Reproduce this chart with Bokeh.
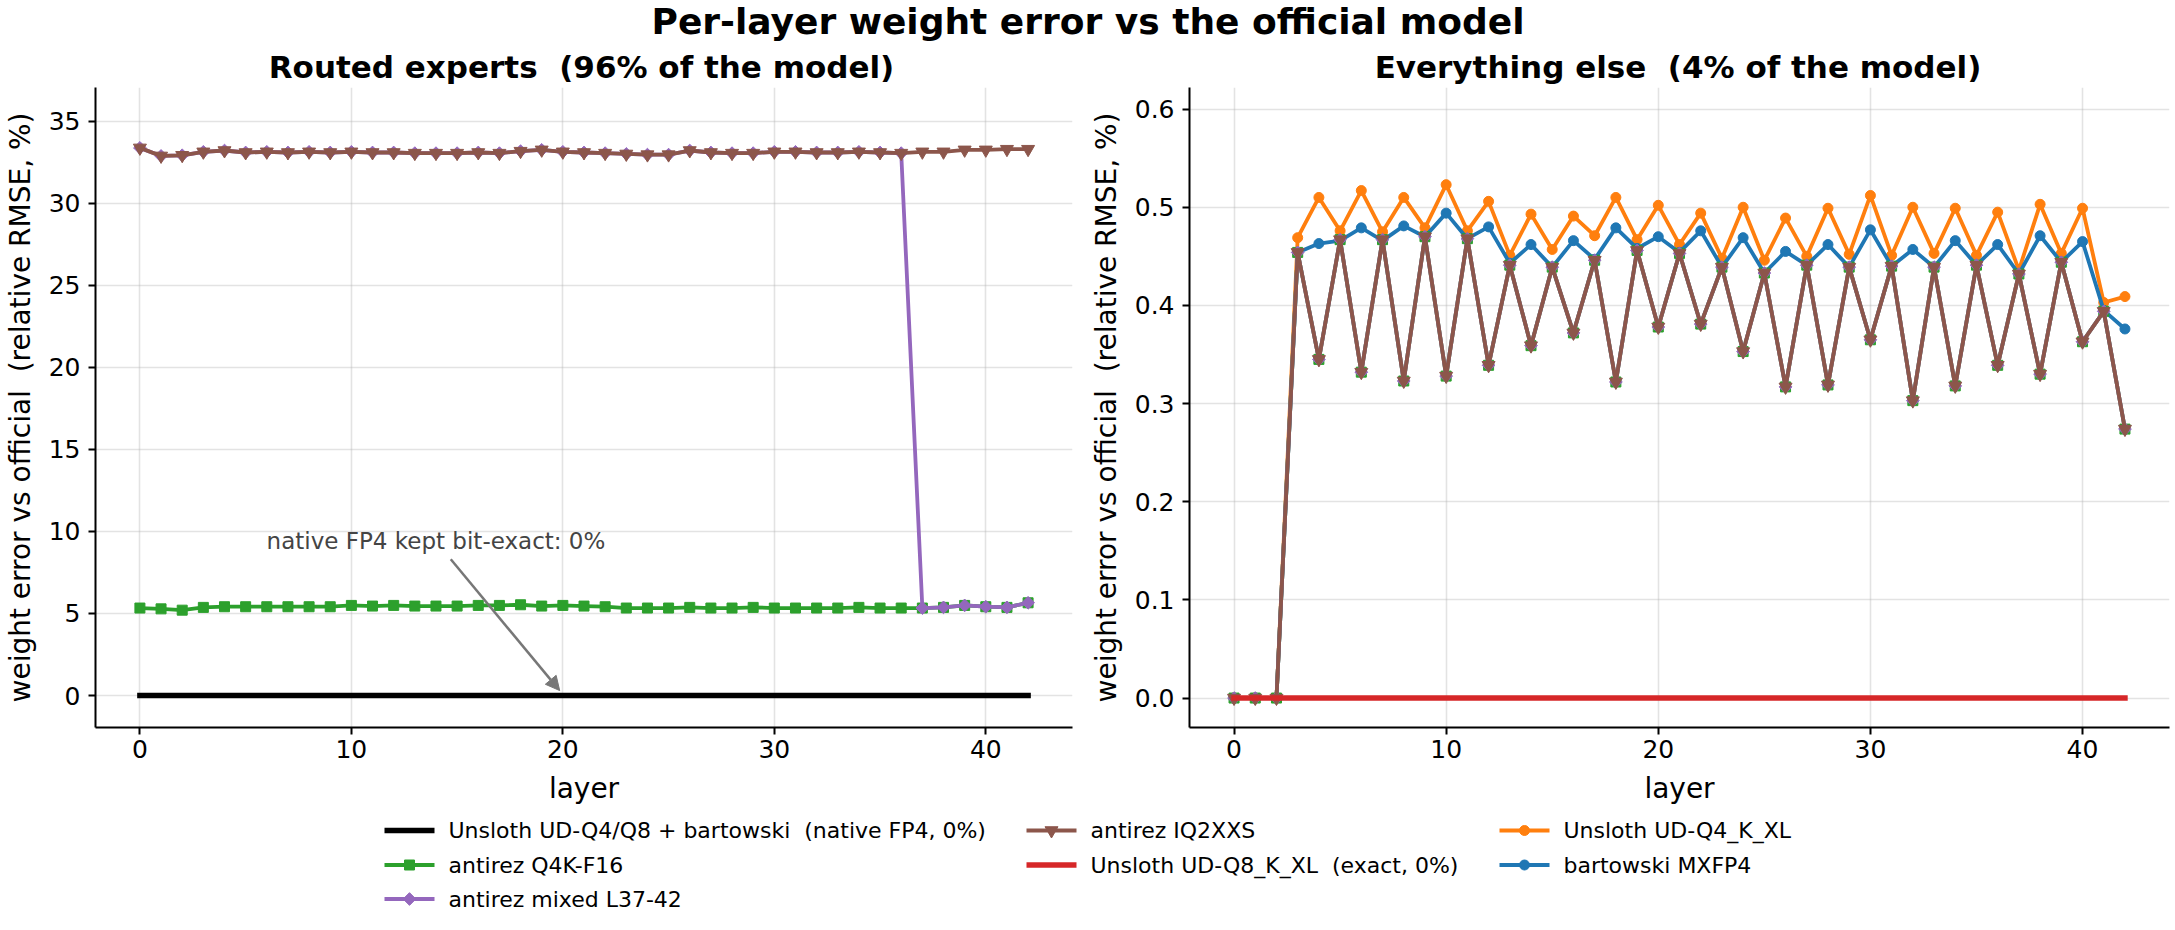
import math
from bokeh.plotting import figure
from bokeh.layouts import column, row
from bokeh.models import Range1d, FixedTicker, PrintfTickFormatter, Label, Arrow, NormalHead
from bokeh.core.properties import value
from bokeh.embed import file_html
from bokeh.resources import INLINE

FONT = "DejaVu Sans"
SP2 = " \u00a0"  # a visible double space (SVG collapses plain double spaces)

# ---------------- data ----------------
layers = [0, 1, 2, 3, 4, 5, 6, 7, 8, 9, 10, 11, 12, 13, 14, 15, 16, 17, 18, 19, 20,
          21, 22, 23, 24, 25, 26, 27, 28, 29, 30, 31, 32, 33, 34, 35, 36, 37, 38, 39, 40, 41, 42]

# Routed experts (relative RMSE, %)
exp_native_fp4 = [0.0, 0.0, 0.0, 0.0, 0.0, 0.0, 0.0, 0.0, 0.0, 0.0, 0.0, 0.0, 0.0, 0.0, 0.0,
                  0.0, 0.0, 0.0, 0.0, 0.0, 0.0, 0.0, 0.0, 0.0, 0.0, 0.0, 0.0, 0.0, 0.0, 0.0,
                  0.0, 0.0, 0.0, 0.0, 0.0, 0.0, 0.0, 0.0, 0.0, 0.0, 0.0, 0.0, 0.0]
exp_q4k_f16 = [5.33, 5.28, 5.20, 5.37, 5.41, 5.41, 5.41, 5.41, 5.41, 5.41, 5.49, 5.45, 5.49, 5.45, 5.45,
               5.45, 5.49, 5.49, 5.53, 5.45, 5.49, 5.45, 5.41, 5.33, 5.33, 5.33, 5.37, 5.33, 5.33, 5.37,
               5.33, 5.33, 5.33, 5.33, 5.37, 5.33, 5.33, 5.33, 5.37, 5.49, 5.41, 5.37, 5.65]
exp_mixed = [33.37, 32.88, 32.92, 33.13, 33.21, 33.09, 33.13, 33.09, 33.13, 33.09, 33.13, 33.09, 33.09,
             33.05, 33.05, 33.05, 33.09, 33.05, 33.17, 33.25, 33.13, 33.09, 33.05, 33.00, 32.96, 32.96,
             33.21, 33.09, 33.05, 33.05, 33.13, 33.13, 33.09, 33.09, 33.13, 33.09, 33.05,
             5.33, 5.37, 5.49, 5.41, 5.37, 5.65]
exp_iq2xxs = [33.37, 32.88, 32.92, 33.13, 33.21, 33.09, 33.13, 33.09, 33.13, 33.09, 33.13, 33.09, 33.09,
              33.05, 33.05, 33.05, 33.09, 33.05, 33.17, 33.25, 33.13, 33.09, 33.05, 33.00, 32.96, 32.96,
              33.21, 33.09, 33.05, 33.05, 33.13, 33.13, 33.09, 33.09, 33.13, 33.09, 33.05,
              33.13, 33.13, 33.25, 33.25, 33.29, 33.29]

# Everything else (relative RMSE, %)
oth_antirez = [0.0, 0.0, 0.0, 0.454, 0.345, 0.467, 0.332, 0.467, 0.323, 0.470, 0.328, 0.468, 0.339,
               0.441, 0.359, 0.439, 0.372, 0.446, 0.322, 0.456, 0.378, 0.453, 0.381, 0.439, 0.353,
               0.433, 0.317, 0.441, 0.319, 0.439, 0.365, 0.440, 0.303, 0.439, 0.318, 0.441, 0.339,
               0.432, 0.330, 0.444, 0.363, 0.394, 0.274]
oth_q8_exact = [0.0, 0.0, 0.0, 0.0, 0.0, 0.0, 0.0, 0.0, 0.0, 0.0, 0.0, 0.0, 0.0, 0.0, 0.0,
                0.0, 0.0, 0.0, 0.0, 0.0, 0.0, 0.0, 0.0, 0.0, 0.0, 0.0, 0.0, 0.0, 0.0, 0.0,
                0.0, 0.0, 0.0, 0.0, 0.0, 0.0, 0.0, 0.0, 0.0, 0.0, 0.0, 0.0, 0.0]
oth_ud_q4 = [0.0, 0.0, 0.0, 0.469, 0.510, 0.476, 0.517, 0.475, 0.510, 0.479, 0.523, 0.476, 0.506,
             0.451, 0.493, 0.457, 0.491, 0.471, 0.510, 0.467, 0.502, 0.462, 0.494, 0.448, 0.500,
             0.446, 0.489, 0.450, 0.499, 0.452, 0.512, 0.451, 0.500, 0.453, 0.499, 0.451, 0.495,
             0.436, 0.503, 0.453, 0.499, 0.403, 0.409]
oth_mxfp4 = [0.0, 0.0, 0.0, 0.454, 0.463, 0.466, 0.479, 0.466, 0.481, 0.470, 0.494, 0.468, 0.480,
             0.443, 0.462, 0.439, 0.466, 0.447, 0.479, 0.458, 0.470, 0.454, 0.476, 0.439, 0.469,
             0.433, 0.455, 0.441, 0.462, 0.439, 0.477, 0.440, 0.457, 0.439, 0.466, 0.441, 0.462,
             0.432, 0.471, 0.444, 0.465, 0.395, 0.376]

x_ticks = [0, 10, 20, 30, 40]
left_y_ticks = [0, 5, 10, 15, 20, 25, 30, 35]
right_y_ticks = [0.0, 0.1, 0.2, 0.3, 0.4, 0.5, 0.6]

suptitle = "Per-layer weight error vs the official model"
title_left = "Routed experts" + SP2 + "(96% of the model)"
title_right = "Everything else" + SP2 + "(4% of the model)"
x_label = "layer"
y_label = "weight error vs official" + SP2 + "(relative RMSE, %)"
note_text = "native FP4 kept bit-exact: 0%"

legend_labels = ["Unsloth UD-Q4/Q8 + bartowski" + SP2 + "(native FP4, 0%)", "antirez Q4K-F16",
                 "antirez mixed L37-42", "antirez IQ2XXS", "Unsloth UD-Q8_K_XL" + SP2 + "(exact, 0%)",
                 "Unsloth UD-Q4_K_XL", "bartowski MXFP4"]

C_BLACK = "#000000"
C_GREEN = "#2ca02c"
C_PURPLE = "#9467bd"
C_BROWN = "#8c564b"
C_RED = "#d62728"
C_ORANGE = "#ff7f0e"
C_BLUE = "#1f77b4"

legend_colors = [C_BLACK, C_GREEN, C_PURPLE, C_BROWN, C_RED, C_ORANGE, C_BLUE]
legend_markers = [None, "square", "diamond", "inverted_triangle", None, "circle", "circle"]

# marker name -> (bokeh marker, size px, rotation)
MARKER_STYLE = {"square": ("square", 10, 0.0),
                "diamond": ("square", 9, math.pi / 4),
                "inverted_triangle": ("inverted_triangle", 13, 0.0),
                "circle": ("circle", 10, 0.0)}
DATA_LW = 3.8
THICK_LW = 5.5

W = 2170
H_HEAD = 84
H_ROW = 734
H_LEG = 108


def style_axes(p, yticks, yfmt=None):
    p.outline_line_color = None
    p.background_fill_color = "white"
    p.border_fill_color = "white"
    p.xaxis.ticker = FixedTicker(ticks=x_ticks)
    p.yaxis.ticker = FixedTicker(ticks=yticks)
    if yfmt:
        p.yaxis.formatter = PrintfTickFormatter(format=yfmt)
    for ax in (p.xaxis[0], p.yaxis[0]):
        ax.axis_line_color = "#000000"
        ax.axis_line_width = 2
        ax.major_tick_line_color = "#000000"
        ax.major_tick_line_width = 2
        ax.major_tick_in = 0
        ax.major_tick_out = 7
        ax.minor_tick_line_color = None
        ax.major_label_text_font = FONT
        ax.major_label_text_font_size = "25px"
        ax.major_label_text_color = "#000000"
        ax.axis_label_text_font = FONT
        ax.axis_label_text_font_size = "28px"
        ax.axis_label_text_font_style = "normal"
        ax.axis_label_text_color = "#000000"
    p.xaxis.axis_label = x_label
    p.xaxis.major_label_standoff = 5
    p.xaxis.axis_label_standoff = 11
    p.yaxis.axis_label = y_label
    p.yaxis.major_label_standoff = 8
    p.yaxis.axis_label_standoff = 9
    p.grid.grid_line_color = "#b0b0b0"
    p.grid.grid_line_alpha = 0.35
    p.grid.grid_line_width = 1.6


def add_markers(p, xs, ys, color, marker):
    mk, size, ang = MARKER_STYLE[marker]
    p.scatter(xs, ys, marker=mk, size=size, angle=ang,
              fill_color=color, line_color=color, line_width=1)


def series(p, y, color, marker, lw=DATA_LW):
    p.line(layers, y, line_color=color, line_width=lw, line_join="round")
    if marker:
        add_markers(p, layers, y, color, marker)


# ---------------- header (suptitle + panel titles) ----------------
head = figure(width=W, height=H_HEAD, x_range=Range1d(0, W), y_range=Range1d(H_HEAD, 0),
              x_axis_type=None, y_axis_type=None, min_border=0, toolbar_location=None,
              output_backend="svg", title=None)
head.outline_line_color = None
head.grid.visible = False
head.add_layout(Label(x=1087.5, y=20.5, text=suptitle, text_align="center", text_baseline="middle",
                      text_font=FONT, text_font_style="bold", text_font_size="36px", text_color="#000000"))
head.add_layout(Label(x=581, y=66.3, text=title_left, text_align="center", text_baseline="middle",
                      text_font=FONT, text_font_style="bold", text_font_size="31px", text_color="#000000"))
head.add_layout(Label(x=1677.5, y=66.3, text=title_right, text_align="center", text_baseline="middle",
                      text_font=FONT, text_font_style="bold", text_font_size="31px", text_color="#000000"))

# ---------------- left panel ----------------
p1 = figure(width=1086, height=H_ROW, x_range=Range1d(-2.1, 44.1), y_range=Range1d(-1.95, 37.05),
            min_border_left=90, min_border_right=14, min_border_top=3, min_border_bottom=91,
            toolbar_location=None, output_backend="svg", title=None)
style_axes(p1, left_y_ticks, None)
p1.line(layers, exp_native_fp4, line_color=C_BLACK, line_width=THICK_LW, line_cap="square")
series(p1, exp_q4k_f16, C_GREEN, "square")
series(p1, exp_mixed, C_PURPLE, "diamond")
series(p1, exp_iq2xxs, C_BROWN, "inverted_triangle")
p1.add_layout(Label(x=14, y=9.43, text=note_text, text_align="center", text_baseline="middle",
                    text_font=FONT, text_font_size="23px", text_color="#444444"))
p1.add_layout(Arrow(end=NormalHead(size=14, fill_color="#777777", line_color="#777777"),
                    x_start=14.7, y_start=8.3, x_end=19.85, y_end=0.3,
                    line_color="#777777", line_width=2.5))

# ---------------- right panel ----------------
p2 = figure(width=1084, height=H_ROW, x_range=Range1d(-2.1, 44.1), y_range=Range1d(-0.030, 0.622),
            min_border_left=100, min_border_right=1, min_border_top=3, min_border_bottom=91,
            toolbar_location=None, output_backend="svg", title=None)
style_axes(p2, right_y_ticks, "%.1f")
series(p2, oth_ud_q4, C_ORANGE, "circle")
series(p2, oth_mxfp4, C_BLUE, "circle")
series(p2, oth_antirez, C_GREEN, "square")
series(p2, oth_antirez, C_PURPLE, "diamond")
series(p2, oth_antirez, C_BROWN, "inverted_triangle")
p2.line(layers, oth_q8_exact, line_color=C_RED, line_width=THICK_LW, line_cap="square")

# ---------------- legend ----------------
leg = figure(width=W, height=H_LEG, x_range=Range1d(0, W), y_range=Range1d(H_LEG, 0),
             x_axis_type=None, y_axis_type=None, min_border=0, toolbar_location=None,
             output_backend="svg", title=None)
leg.outline_line_color = None
leg.grid.visible = False
col_x = [384, 1026, 1499]
row_y = [12, 46.5, 80.5]
handle_len = 50
text_gap = 14
per_col = [3, 2, 2]
idx = 0
for c, n in enumerate(per_col):
    for r in range(n):
        lab = legend_labels[idx]
        col = legend_colors[idx]
        mk = legend_markers[idx]
        x0 = col_x[c]
        y0 = row_y[r]
        lw = THICK_LW if mk is None else DATA_LW
        leg.segment(x0=[x0], y0=[y0], x1=[x0 + handle_len], y1=[y0], line_color=col, line_width=lw)
        if mk:
            add_markers(leg, [x0 + handle_len / 2], [y0], col, mk)
        leg.text(x=[x0 + handle_len + text_gap], y=[y0 + 0.4], text=[lab], text_align="left",
                 text_baseline="middle", text_font=value(FONT), text_font_size="22px",
                 text_color="#000000")
        idx += 1

layout = column(head, row(p1, p2), leg)
open("out.html", "w").write(file_html(layout, INLINE))
